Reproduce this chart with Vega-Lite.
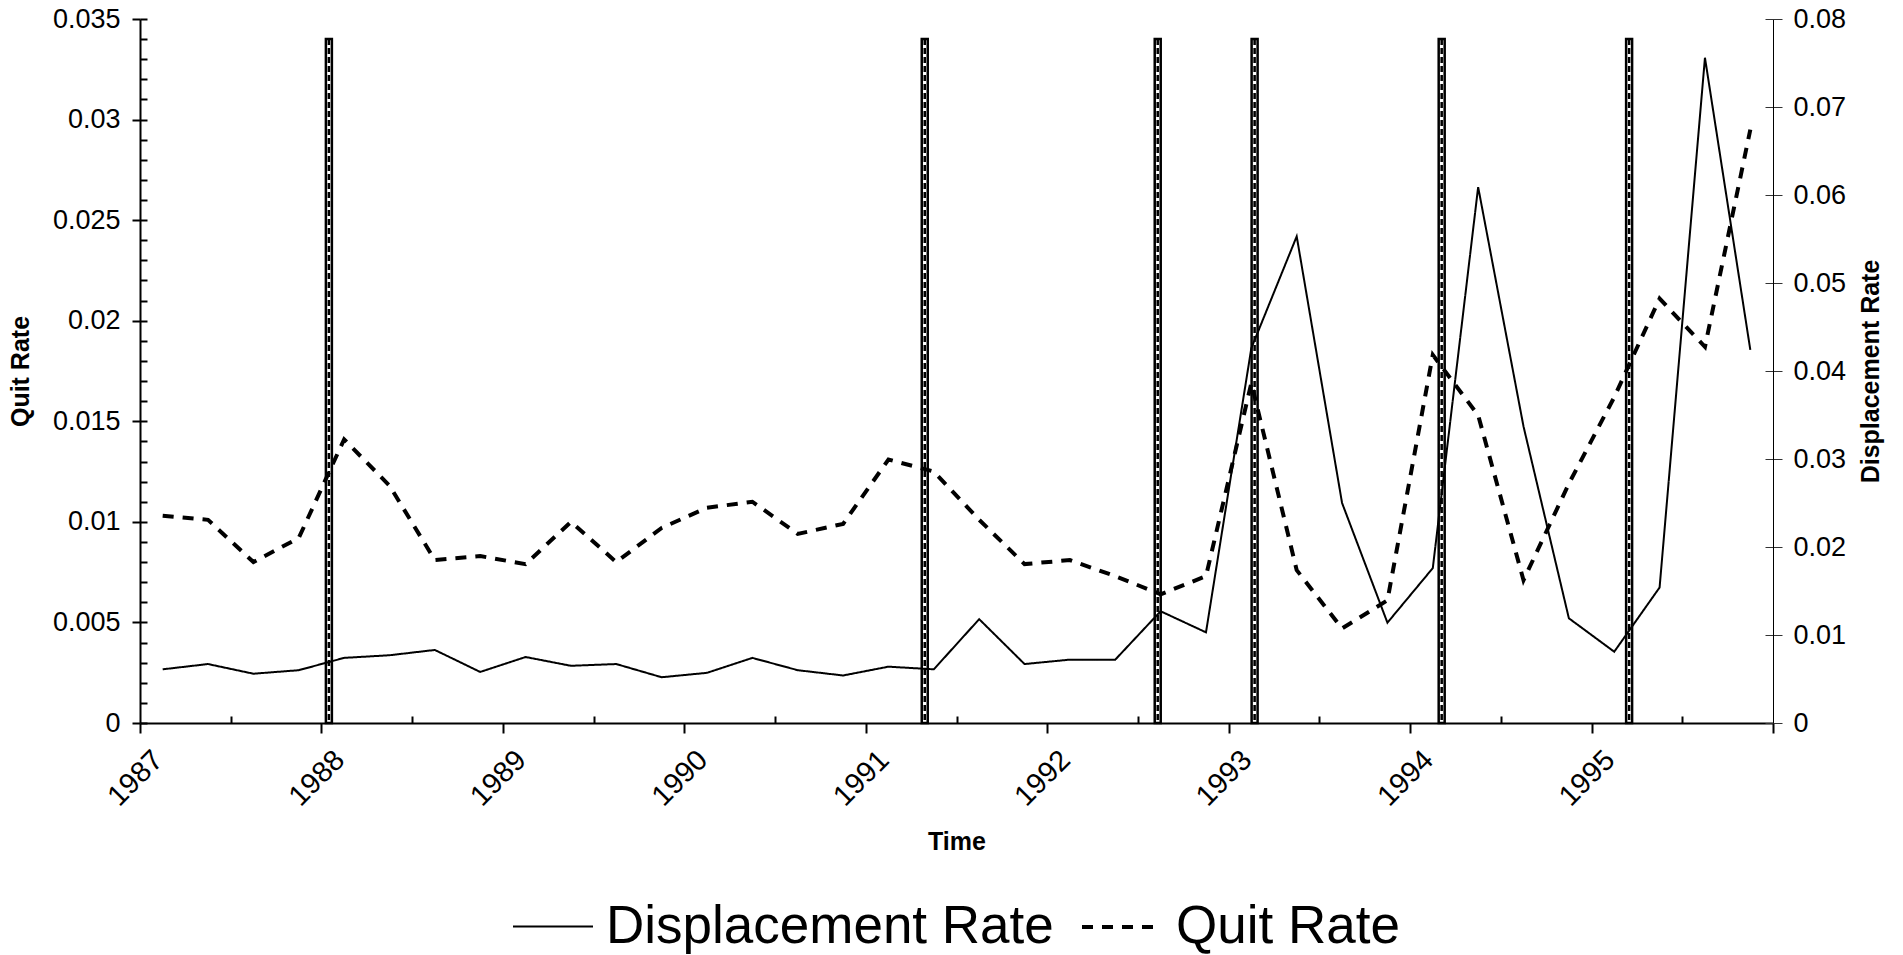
{
  "$schema": "https://vega.github.io/schema/vega-lite/v6.json",
  "width": 1633,
  "height": 704,
  "autosize": {"type": "none"},
  "padding": {"left": 140, "top": 19, "right": 130, "bottom": 232},
  "background": "white",
  "config": {
    "view": {"stroke": null},
    "font": "Liberation Sans",
    "axis": {"grid": false, "labelFont": "Liberation Sans", "titleFont": "Liberation Sans", "labelColor": "#000", "titleColor": "#000", "domainColor": "#000", "tickColor": "#000"}
  },
  "datasets": {
    "rates": [
      {"t": 1987.125, "series": "Quit Rate", "value": 0.0103},
      {"t": 1987.375, "series": "Quit Rate", "value": 0.0101},
      {"t": 1987.625, "series": "Quit Rate", "value": 0.0080},
      {"t": 1987.875, "series": "Quit Rate", "value": 0.0092},
      {"t": 1988.125, "series": "Quit Rate", "value": 0.0141},
      {"t": 1988.375, "series": "Quit Rate", "value": 0.0118},
      {"t": 1988.625, "series": "Quit Rate", "value": 0.0081},
      {"t": 1988.875, "series": "Quit Rate", "value": 0.0083},
      {"t": 1989.125, "series": "Quit Rate", "value": 0.0079},
      {"t": 1989.375, "series": "Quit Rate", "value": 0.0100},
      {"t": 1989.625, "series": "Quit Rate", "value": 0.0080},
      {"t": 1989.875, "series": "Quit Rate", "value": 0.0097},
      {"t": 1990.125, "series": "Quit Rate", "value": 0.0107},
      {"t": 1990.375, "series": "Quit Rate", "value": 0.0110},
      {"t": 1990.625, "series": "Quit Rate", "value": 0.0094},
      {"t": 1990.875, "series": "Quit Rate", "value": 0.0099},
      {"t": 1991.125, "series": "Quit Rate", "value": 0.0131},
      {"t": 1991.375, "series": "Quit Rate", "value": 0.0125},
      {"t": 1991.625, "series": "Quit Rate", "value": 0.0101},
      {"t": 1991.875, "series": "Quit Rate", "value": 0.0079},
      {"t": 1992.125, "series": "Quit Rate", "value": 0.0081},
      {"t": 1992.375, "series": "Quit Rate", "value": 0.0073},
      {"t": 1992.625, "series": "Quit Rate", "value": 0.0064},
      {"t": 1992.875, "series": "Quit Rate", "value": 0.0073},
      {"t": 1993.125, "series": "Quit Rate", "value": 0.0169},
      {"t": 1993.375, "series": "Quit Rate", "value": 0.0076},
      {"t": 1993.625, "series": "Quit Rate", "value": 0.0047},
      {"t": 1993.875, "series": "Quit Rate", "value": 0.0061},
      {"t": 1994.125, "series": "Quit Rate", "value": 0.0183},
      {"t": 1994.375, "series": "Quit Rate", "value": 0.0153},
      {"t": 1994.625, "series": "Quit Rate", "value": 0.0071},
      {"t": 1994.875, "series": "Quit Rate", "value": 0.0119},
      {"t": 1995.125, "series": "Quit Rate", "value": 0.0162},
      {"t": 1995.375, "series": "Quit Rate", "value": 0.0211},
      {"t": 1995.625, "series": "Quit Rate", "value": 0.0187},
      {"t": 1995.875, "series": "Quit Rate", "value": 0.0295},
      {"t": 1987.125, "series": "Displacement Rate", "value": 0.0061},
      {"t": 1987.375, "series": "Displacement Rate", "value": 0.0067},
      {"t": 1987.625, "series": "Displacement Rate", "value": 0.0056},
      {"t": 1987.875, "series": "Displacement Rate", "value": 0.0060},
      {"t": 1988.125, "series": "Displacement Rate", "value": 0.0074},
      {"t": 1988.375, "series": "Displacement Rate", "value": 0.0077},
      {"t": 1988.625, "series": "Displacement Rate", "value": 0.0083},
      {"t": 1988.875, "series": "Displacement Rate", "value": 0.0058},
      {"t": 1989.125, "series": "Displacement Rate", "value": 0.0075},
      {"t": 1989.375, "series": "Displacement Rate", "value": 0.0065},
      {"t": 1989.625, "series": "Displacement Rate", "value": 0.0067},
      {"t": 1989.875, "series": "Displacement Rate", "value": 0.0052},
      {"t": 1990.125, "series": "Displacement Rate", "value": 0.0057},
      {"t": 1990.375, "series": "Displacement Rate", "value": 0.0074},
      {"t": 1990.625, "series": "Displacement Rate", "value": 0.0060},
      {"t": 1990.875, "series": "Displacement Rate", "value": 0.0054},
      {"t": 1991.125, "series": "Displacement Rate", "value": 0.0064},
      {"t": 1991.375, "series": "Displacement Rate", "value": 0.0061},
      {"t": 1991.625, "series": "Displacement Rate", "value": 0.0118},
      {"t": 1991.875, "series": "Displacement Rate", "value": 0.0067},
      {"t": 1992.125, "series": "Displacement Rate", "value": 0.0072},
      {"t": 1992.375, "series": "Displacement Rate", "value": 0.0072},
      {"t": 1992.625, "series": "Displacement Rate", "value": 0.0127},
      {"t": 1992.875, "series": "Displacement Rate", "value": 0.0103},
      {"t": 1993.125, "series": "Displacement Rate", "value": 0.0426},
      {"t": 1993.375, "series": "Displacement Rate", "value": 0.0553},
      {"t": 1993.625, "series": "Displacement Rate", "value": 0.0250},
      {"t": 1993.875, "series": "Displacement Rate", "value": 0.0114},
      {"t": 1994.125, "series": "Displacement Rate", "value": 0.0176},
      {"t": 1994.375, "series": "Displacement Rate", "value": 0.0609},
      {"t": 1994.625, "series": "Displacement Rate", "value": 0.0337},
      {"t": 1994.875, "series": "Displacement Rate", "value": 0.0119},
      {"t": 1995.125, "series": "Displacement Rate", "value": 0.0081},
      {"t": 1995.375, "series": "Displacement Rate", "value": 0.0154},
      {"t": 1995.625, "series": "Displacement Rate", "value": 0.0756},
      {"t": 1995.875, "series": "Displacement Rate", "value": 0.0424}
    ],
    "events": [
      {"start": 1988.0245, "mid": 1988.041, "end": 1988.0575, "top": 0.034},
      {"start": 1991.3085, "mid": 1991.325, "end": 1991.3415, "top": 0.034},
      {"start": 1992.5925, "mid": 1992.609, "end": 1992.6255, "top": 0.034},
      {"start": 1993.1265, "mid": 1993.143, "end": 1993.1595, "top": 0.034},
      {"start": 1994.1575, "mid": 1994.174, "end": 1994.1905, "top": 0.034},
      {"start": 1995.1905, "mid": 1995.207, "end": 1995.2235, "top": 0.034}
    ]
  },
  "layer": [
    {
      "data": {"name": "events"},
      "mark": {"type": "rect", "fill": "white", "stroke": "black", "strokeWidth": 2.5},
      "encoding": {
        "x": {"field": "start", "type": "quantitative", "scale": {"domain": [1987, 1996], "nice": false, "zero": false}, "axis": null},
        "x2": {"field": "end"},
        "y": {"field": "top", "type": "quantitative", "scale": {"domain": [0, 0.035], "nice": false}, "axis": null},
        "y2": {"datum": 0}
      }
    },
    {
      "data": {"name": "events"},
      "mark": {"type": "rule", "stroke": "black", "strokeWidth": 2.5, "strokeDash": [6, 3]},
      "encoding": {
        "x": {"field": "mid", "type": "quantitative", "axis": null},
        "y": {"field": "top", "type": "quantitative", "scale": {"domain": [0, 0.035], "nice": false}, "axis": null},
        "y2": {"datum": 0}
      }
    },
    {
      "data": {"name": "rates"},
      "transform": [{"filter": "datum.series === 'Quit Rate'"}],
      "mark": {"type": "point", "opacity": 0},
      "encoding": {
        "x": {"field": "t", "type": "quantitative", "axis": {"orient": "bottom", "values": [1987.5, 1988.5, 1989.5, 1990.5, 1991.5, 1992.5, 1993.5, 1994.5, 1995.5], "tickSize": -7, "tickWidth": 2, "labels": false, "domain": false, "title": null}},
        "y": {"field": "value", "type": "quantitative", "scale": {"domain": [0, 0.035], "nice": false}, "axis": {"orient": "left", "values": [0, 0.001, 0.002, 0.003, 0.004, 0.005, 0.006, 0.007, 0.008, 0.009, 0.01, 0.011, 0.012, 0.013, 0.014, 0.015, 0.016, 0.017, 0.018, 0.019, 0.02, 0.021, 0.022, 0.023, 0.024, 0.025, 0.026, 0.027, 0.028, 0.029, 0.03, 0.031, 0.032, 0.033, 0.034, 0.035], "tickSize": -7, "tickWidth": 2, "labels": false, "domain": false, "title": null}}
      }
    },
    {
      "data": {"name": "rates"},
      "transform": [{"filter": "datum.series === 'Displacement Rate'"}],
      "mark": {"type": "point", "opacity": 0},
      "encoding": {
        "x": {"field": "t", "type": "quantitative", "axis": null},
        "y": {"field": "value", "type": "quantitative", "scale": {"domain": [0, 0.08], "nice": false}, "axis": {"orient": "right", "values": [0, 0.01, 0.02, 0.03, 0.04, 0.05, 0.06, 0.07, 0.08], "tickSize": -8, "tickWidth": 1, "tickColor": "#333", "labels": false, "domain": false, "title": null}}
      }
    },
    {
      "data": {"name": "rates"},
      "transform": [{"filter": "datum.series === 'Quit Rate'"}],
      "mark": {"type": "line", "stroke": "black"},
      "encoding": {
        "x": {"field": "t", "type": "quantitative", "axis": {"orient": "bottom", "values": [1987, 1988, 1989, 1990, 1991, 1992, 1993, 1994, 1995, 1996], "labelExpr": "datum.value < 1996 ? datum.label : ''", "format": "d", "tickSize": 10, "tickWidth": 2, "domainWidth": 2, "labelAngle": -45, "labelFontSize": 29, "labelPadding": 12, "labelOffset": 8, "title": "Time", "titleFontSize": 25, "titleFontWeight": "bold", "titlePadding": 18}},
        "y": {"field": "value", "type": "quantitative", "scale": {"domain": [0, 0.035], "nice": false}, "axis": {"orient": "left", "values": [0, 0.005, 0.01, 0.015, 0.02, 0.025, 0.03, 0.035], "format": "~g", "tickSize": 8, "tickWidth": 2, "domainWidth": 2, "labelFontSize": 27, "labelPadding": 12, "title": "Quit Rate", "titleFontSize": 25, "titleFontWeight": "bold", "titlePadding": 19}},
        "strokeDash": {"field": "series", "type": "nominal", "scale": {"domain": ["Displacement Rate", "Quit Rate"], "range": [[1, 0], [11, 9]]}, "legend": {"orient": "none", "legendX": 372, "legendY": 866, "direction": "horizontal", "title": null, "labelFontSize": 53, "labelFont": "Liberation Sans", "labelColor": "black", "labelLimit": 2000, "symbolType": "stroke", "symbolSize": 6400, "symbolStrokeColor": "black", "labelOffset": 12, "columnPadding": 20}},
        "strokeWidth": {"field": "series", "type": "nominal", "scale": {"type": "ordinal", "domain": ["Displacement Rate", "Quit Rate"], "range": [2, 4]}, "legend": {"orient": "none", "legendX": 372, "legendY": 866, "direction": "horizontal", "title": null, "labelFontSize": 53, "labelFont": "Liberation Sans", "labelColor": "black", "labelLimit": 2000, "symbolType": "stroke", "symbolSize": 6400, "symbolStrokeColor": "black", "labelOffset": 12, "columnPadding": 20}}
      }
    },
    {
      "data": {"name": "rates"},
      "transform": [{"filter": "datum.series === 'Displacement Rate'"}],
      "mark": {"type": "line", "stroke": "black"},
      "encoding": {
        "x": {"field": "t", "type": "quantitative", "axis": null},
        "y": {"field": "value", "type": "quantitative", "scale": {"domain": [0, 0.08], "nice": false}, "axis": {"orient": "right", "values": [0, 0.01, 0.02, 0.03, 0.04, 0.05, 0.06, 0.07, 0.08], "format": "~g", "tickSize": 9, "tickWidth": 1, "tickColor": "#333", "domainWidth": 1, "labelFontSize": 27, "labelPadding": 11, "title": "Displacement Rate", "titleFontSize": 25, "titleFontWeight": "bold", "titleAngle": 270, "titleBaseline": "top", "titlePadding": 13}},
        "strokeDash": {"field": "series", "type": "nominal", "scale": {"domain": ["Displacement Rate", "Quit Rate"], "range": [[1, 0], [11, 9]]}},
        "strokeWidth": {"field": "series", "type": "nominal", "scale": {"type": "ordinal", "domain": ["Displacement Rate", "Quit Rate"], "range": [2, 4]}}
      }
    }
  ],
  "resolve": {"scale": {"y": "independent"}, "axis": {"x": "independent", "y": "independent"}}
}
